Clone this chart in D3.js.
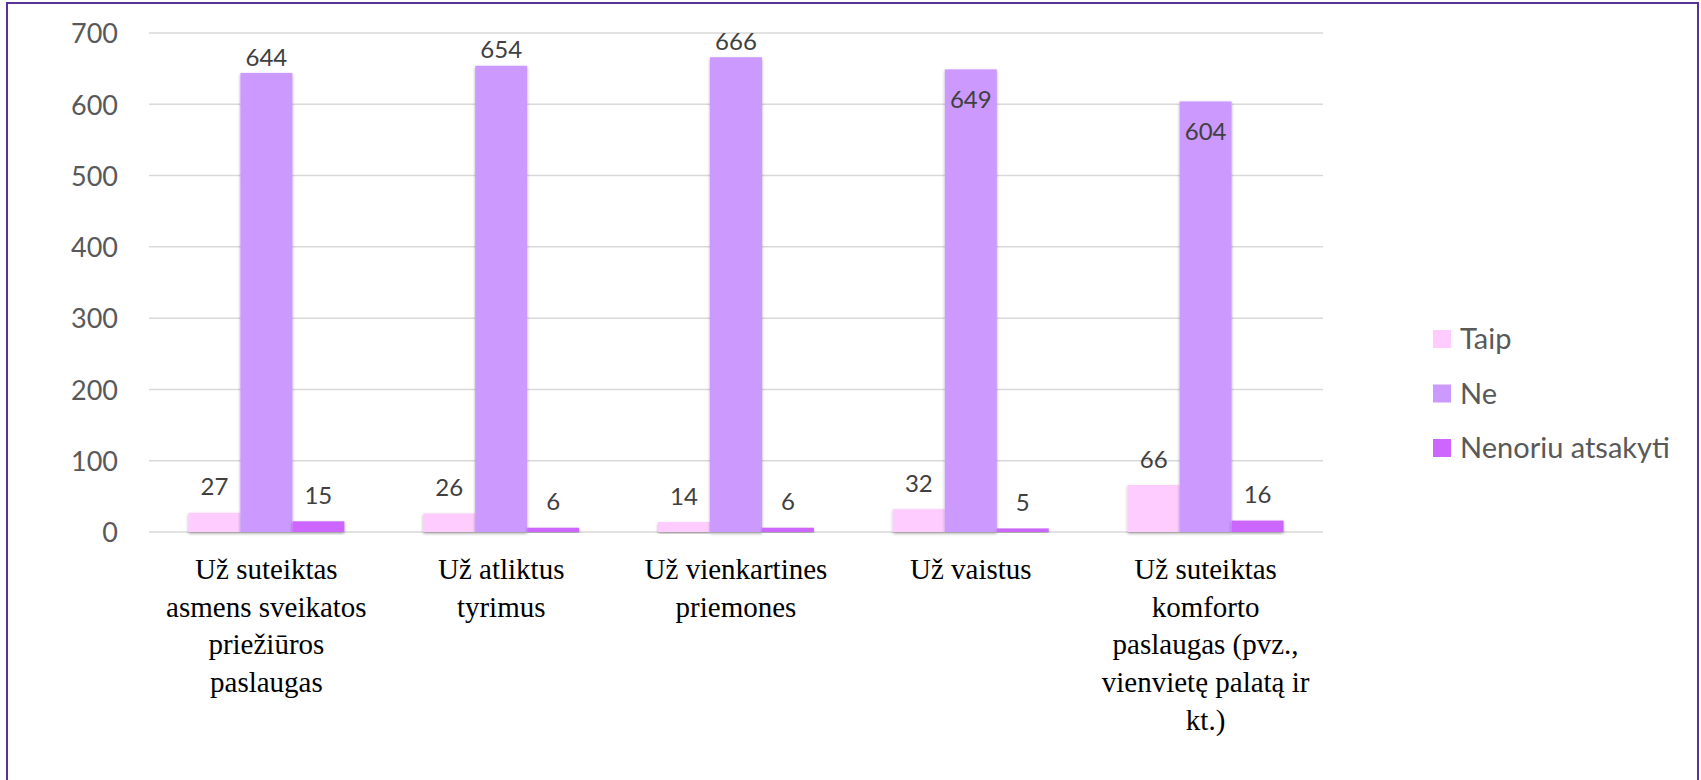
<!DOCTYPE html>
<html>
<head>
<meta charset="utf-8">
<script src="https://cdn.jsdelivr.net/npm/d3@7"></script>
<style>
  html, body { margin: 0; padding: 0; background: #ffffff; }
  svg { display: block; }
  svg text.cat { font-family: "Liberation Serif", "Times New Roman", serif; }
</style>
</head>
<body>
<svg id="chart" width="1701" height="780"></svg>
<script>
// ---- Data ----
const categories = [
  "Už suteiktas asmens sveikatos priežiūros paslaugas",
  "Už atliktus tyrimus",
  "Už vienkartines priemones",
  "Už vaistus",
  "Už suteiktas komforto paslaugas (pvz., vienvietę palatą ir kt.)"
];
const categoryLines = [
  ["Už suteiktas", "asmens sveikatos", "priežiūros", "paslaugas"],
  ["Už atliktus", "tyrimus"],
  ["Už vienkartines", "priemones"],
  ["Už vaistus"],
  ["Už suteiktas", "komforto", "paslaugas (pvz.,", "vienvietę palatą ir", "kt.)"]
];
const seriesNames = ["Taip", "Ne", "Nenoriu atsakyti"];
const taip = [27, 26, 14, 32, 66];
const ne = [644, 654, 666, 649, 604];
const nenoriu = [15, 6, 6, 5, 16];
const yTicks = [0, 100, 200, 300, 400, 500, 600, 700];
const seriesColors = ["#FFCCFF", "#CC99FF", "#CC66FF"];

const SANS = '"Lato"';

// ---- Layout ----
const svg = d3.select("#chart");
const plot = { left: 149, right: 1323, top: 33, bottom: 532 };

svg.append("rect")
  .attr("x", 7).attr("y", 3)
  .attr("width", 1691).attr("height", 820)
  .attr("fill", "none")
  .attr("stroke", "#5a3296")
  .attr("stroke-width", 2);

const defs = svg.append("defs");
const f = defs.append("filter").attr("id", "shadow")
  .attr("x", "-30%").attr("y", "-10%").attr("width", "160%").attr("height", "130%");
f.append("feDropShadow")
  .attr("dx", 0).attr("dy", 1.5).attr("stdDeviation", 1.8)
  .attr("flood-color", "#000").attr("flood-opacity", 0.35);

const y = d3.scaleLinear().domain([0, 700]).range([plot.bottom, plot.top]);
const x0 = d3.scaleBand().domain(categories)
  .range([plot.left, plot.right])
  .paddingInner(0.336).paddingOuter(0.168);
const x1 = d3.scaleBand().domain(seriesNames).range([0, x0.bandwidth()]);

// gridlines
svg.append("g").selectAll("line").data(yTicks).join("line")
  .attr("x1", plot.left).attr("x2", plot.right)
  .attr("y1", d => y(d)).attr("y2", d => y(d))
  .attr("stroke", "#d9d9d9").attr("stroke-width", 1.5);

// y axis labels
const yAxis = d3.axisLeft(y).tickValues(yTicks).tickSize(0).tickPadding(0);
const ya = svg.append("g").attr("transform", "translate(118,0)").call(yAxis);
ya.select(".domain").remove();
ya.selectAll("text")
  .style("font-family", SANS)
  .style("font-size", "27px")
  .attr("fill", "#595959")
  .attr("dy", "0.36em");

// bars
const rows = categories.map((c, i) => ({
  cat: c,
  vals: [
    { s: seriesNames[0], v: taip[i], k: 0 },
    { s: seriesNames[1], v: ne[i], k: 1 },
    { s: seriesNames[2], v: nenoriu[i], k: 2 }
  ]
}));

const groups = svg.append("g").selectAll("g").data(rows).join("g")
  .attr("transform", d => `translate(${x0(d.cat)},0)`);

groups.selectAll("rect").data(d => d.vals).join("rect")
  .attr("x", d => x1(d.s))
  .attr("width", x1.bandwidth())
  .attr("y", d => y(d.v))
  .attr("height", d => y(0) - y(d.v))
  .attr("fill", d => seriesColors[d.k])
  .attr("filter", "url(#shadow)");

// data labels
const insideCats = new Set([categories[3], categories[4]]);
groups.each(function(row) {
  d3.select(this).selectAll("text.lbl").data(row.vals).join("text")
    .attr("class", "lbl")
    .attr("x", d => x1(d.s) + x1.bandwidth() / 2)
    .attr("y", d => {
      const top = y(d.v);
      if (d.k === 1) {
        return insideCats.has(row.cat) ? top + 30 : top - 16;
      }
      return top - 26;
    })
    .attr("dy", "0.36em")
    .attr("text-anchor", "middle")
    .style("font-family", SANS)
    .style("font-size", "24px")
    .attr("fill", "#404040")
    .text(d => d.v);
});

// category labels: one text element per line
const catLines = [];
categories.forEach((c, i) => {
  categoryLines[i].forEach((ln, j) => catLines.push({ c, ln, j }));
});
svg.append("g").selectAll("text").data(catLines).join("text")
  .attr("class", "cat")
  .attr("x", d => x0(d.c) + x0.bandwidth() / 2)
  .attr("y", d => 579 + d.j * 37.7)
  .attr("text-anchor", "middle")
  .attr("font-family", "Liberation Serif")
  .attr("font-size", 29)
  .attr("fill", "#000")
  .text(d => d.ln);

// legend
const leg = svg.append("g").selectAll("g").data(seriesNames).join("g")
  .attr("transform", (d, i) => `translate(1433,${339 + i * 54.5})`);
leg.append("rect")
  .attr("x", 0).attr("y", -9).attr("width", 18).attr("height", 18)
  .attr("fill", (d, i) => seriesColors[i]);
leg.append("text")
  .attr("x", 27).attr("y", 0).attr("dy", "0.36em")
  .style("font-family", SANS)
  .style("font-size", "29px")
  .attr("fill", "#595959")
  .text(d => d);
</script>
</body>
</html>
